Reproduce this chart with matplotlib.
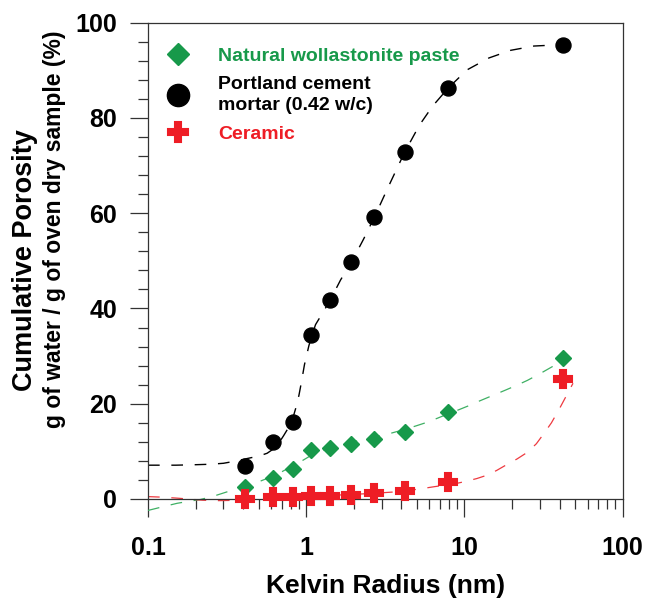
import matplotlib
matplotlib.use("Agg")
import matplotlib.pyplot as plt
from matplotlib.lines import Line2D
from matplotlib.ticker import MultipleLocator, LogLocator, NullFormatter

plt.rcParams['font.family'] = ['Liberation Sans', 'DejaVu Sans']
plt.rcParams['font.weight'] = 'bold'
plt.rcParams['lines.scale_dashes'] = False

# ---- data ----
kelvin_radius = [0.41, 0.615, 0.823, 1.08, 1.42, 1.93, 2.70, 4.19, 7.91, 42.0]
wollastonite = [2.6, 4.5, 6.3, 10.3, 10.8, 11.5, 12.7, 14.1, 18.2, 29.5]
portland = [6.9, 11.9, 16.1, 34.4, 41.8, 49.7, 59.2, 72.8, 86.3, 95.3]
ceramic = [0.0, 0.35, 0.4, 0.6, 0.6, 0.85, 1.2, 1.7, 3.6, 25.1]

# dashed fit curves
portland_fit_x = [0.1, 0.15, 0.2, 0.25, 0.3, 0.35, 0.41, 0.5, 0.566, 0.62, 0.67, 0.72,
                  0.77, 0.82, 0.865, 0.9, 0.93, 0.975, 1.04, 1.08, 1.145, 1.24, 1.325,
                  1.42, 1.65, 1.93, 2.3, 2.7, 3.3, 4.19, 5.2, 6.3, 7.91, 10.4, 14.3,
                  19.6, 27.5, 42.0]
portland_fit_y = [7.1, 7.1, 7.2, 7.3, 7.5, 7.9, 8.4, 9.0, 9.6, 10.5, 11.7, 13.3,
                  14.9, 16.8, 19.4, 21.8, 24.3, 28.2, 32.2, 34.0, 36.6, 38.5, 40.1,
                  41.8, 46.0, 49.7, 54.5, 59.2, 65.5, 72.8, 78.5, 82.5, 86.3, 90.1, 92.6,
                  94.2, 95.1, 95.4]

wollastonite_fit_x = [0.1, 0.125, 0.153, 0.18, 0.215, 0.26, 0.316, 0.36, 0.41, 0.5, 0.615,
                      0.7, 0.823, 0.95, 1.08, 1.25, 1.42, 1.65, 1.93, 2.3, 2.7, 3.1, 3.6,
                      4.19, 5.0, 5.8, 6.8, 7.91, 9.0, 10.5, 12.5, 15.0, 18.0, 21.5, 25.0,
                      30.0, 36.0, 42.0]
wollastonite_fit_y = [-2.4, -1.6, -0.9, -0.5, -0.1, 0.6, 1.5, 2.0, 2.7, 3.6, 4.8,
                      5.7, 7.0, 8.1, 9.2, 10.0, 10.7, 11.3, 11.9, 12.5, 13.0, 13.4, 14.0,
                      14.6, 15.4, 16.1, 17.0, 17.9, 18.6, 19.5, 20.6, 21.7, 22.8, 23.9, 24.9,
                      26.3, 27.8, 29.4]

ceramic_fit_x = [0.1, 0.12, 0.15, 0.18, 0.22, 0.27, 0.33, 0.41, 0.5, 0.615, 0.823, 1.08,
                 1.42, 1.93, 2.7, 3.5, 4.19, 5.2, 6.5, 7.91, 9.0, 10.2, 12.0, 13.9, 16.0,
                 18.7, 21.5, 25.0, 28.5, 31.9, 35.5, 39.5, 43.5, 48.6]
ceramic_fit_y = [0.5, 0.4, 0.2, 0.0, -0.25, -0.35, -0.3, -0.1, 0.05, 0.2, 0.4, 0.55,
                 0.75, 0.95, 1.2, 1.45, 1.7, 2.1, 2.6, 3.0, 3.3, 3.7, 4.3, 5.0, 6.0,
                 7.3, 8.4, 9.8, 11.6, 13.8, 16.0, 18.7, 21.3, 24.3]

x_ticks = [0.1, 1, 10, 100]
x_tick_labels = ["0.1", "1", "10", "100"]
y_ticks = [0, 20, 40, 60, 80, 100]
labels = ["Natural wollastonite paste", "Portland cement\nmortar (0.42 w/c)", "Ceramic"]

GREEN = '#17994a'
RED = '#ee1d25'
BLACK = '#000000'
GREEN_LINE = '#3fb064'
RED_LINE = '#ee3a40'

W, H = 646, 601
fig = plt.figure(figsize=(W / 100, H / 100), dpi=100)
ax = fig.add_axes([148 / W, 1 - 499 / H, (622.6 - 148) / W, (499 - 22.7) / H])

dash = (8.4, 8.4)
ax.plot(wollastonite_fit_x, wollastonite_fit_y, color=GREEN_LINE, lw=0.9, dashes=dash,
        clip_on=False, zorder=2)
ax.plot(ceramic_fit_x, ceramic_fit_y, color=RED_LINE, lw=0.9, dashes=dash,
        clip_on=False, zorder=2)
ax.plot(portland_fit_x, portland_fit_y, color=BLACK, lw=1.0, dashes=dash,
        clip_on=False, zorder=2)

ax.plot(kelvin_radius, wollastonite, ls='none', marker='D', ms=8.6, color=GREEN,
        mec=GREEN, clip_on=False, zorder=4)
ax.plot(kelvin_radius, portland, ls='none', marker='o', ms=10.8, color=BLACK,
        clip_on=False, zorder=4)
ax.plot(kelvin_radius, ceramic, ls='none', marker='P', ms=12.5, color=RED, mec=RED,
        mew=1.5, clip_on=False, zorder=5)

ax.set_xscale('log')
ax.set_xlim(0.1, 100)
ax.set_ylim(0, 100)
ax.set_xticks(x_ticks)
ax.set_xticklabels(x_tick_labels)
ax.xaxis.set_minor_locator(LogLocator(base=10, subs=range(2, 10)))
ax.xaxis.set_minor_formatter(NullFormatter())
ax.set_yticks(y_ticks)
ax.yaxis.set_minor_locator(MultipleLocator(4))

for s in ax.spines.values():
    s.set_linewidth(0.9)
    s.set_color('#333333')

ax.tick_params(which='both', direction='out', color='#333333', width=0.9,
               top=False, right=False)
ax.tick_params(which='major', length=13.2)
ax.tick_params(which='minor', length=7)
ax.tick_params(axis='x', which='major', labelsize=18, pad=13.5)
ax.tick_params(axis='y', which='major', labelsize=18, pad=9)
for t in ax.get_xticklabels() + ax.get_yticklabels():
    t.set_fontweight('bold')

ax.set_xlabel("Kelvin Radius (nm)", fontsize=19, fontweight='bold', labelpad=10)

fig.text(25.5 / W, 1 - 260 / H, "Cumulative Porosity", rotation=90, ha='center',
         va='center', fontsize=19.5, fontweight='bold')
fig.text(55 / W, 1 - 229 / H, "g of water / g of oven dry sample (%)", rotation=90,
         ha='center', va='center', fontsize=16.5, fontweight='bold')

handles = [
    Line2D([], [], ls='none', marker='D', ms=10.7, color=GREEN),
    Line2D([], [], ls='none', marker='o', ms=16, color=BLACK),
    Line2D([], [], ls='none', marker='P', ms=14, color=RED, mec=RED, mew=1.5),
]
fs_px = 14 * 100 / 72
anchor_x = (148 + 30 - 0.5 * fs_px - 148) / (622.6 - 148)
anchor_y = 1 - (47.4 - 22.7) / (499 - 22.7)
leg = ax.legend(handles, labels, loc='upper left', bbox_to_anchor=(anchor_x, anchor_y),
                frameon=False, borderaxespad=0, borderpad=0, handlelength=1.0,
                handletextpad=1.57, labelspacing=0.56,
                prop={'family': 'Liberation Sans', 'weight': 'bold', 'size': 14},
                labelcolor=[GREEN, BLACK, RED])
for t in leg.get_texts():
    t.set_linespacing(1.33)

fig.savefig("out.png", dpi=100)
